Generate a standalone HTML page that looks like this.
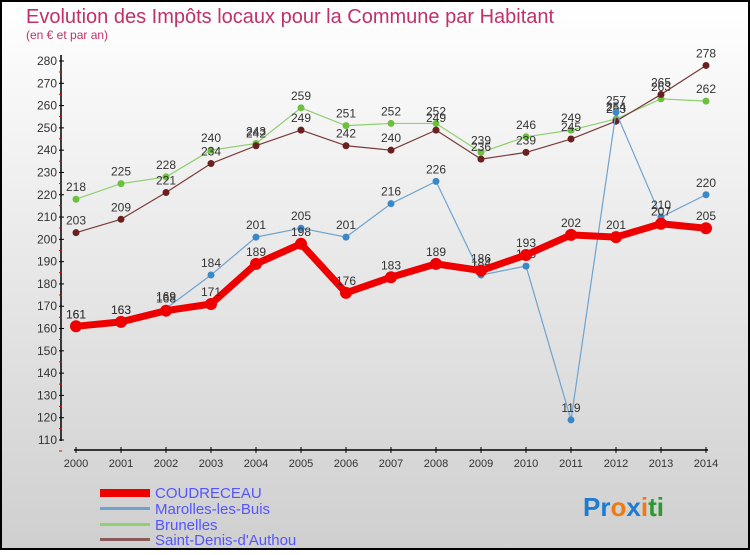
<!DOCTYPE html>
<html><head><meta charset="utf-8"><style>
body{margin:0;}
#c{width:750px;height:550px;position:relative;font-family:"Liberation Sans",sans-serif;}
</style></head><body>
<div id="c">
<svg id="s" width="750" height="550" xmlns="http://www.w3.org/2000/svg">
<defs><linearGradient id="bg" x1="0" y1="0" x2="0" y2="1"><stop offset="0" stop-color="#ffffff"/><stop offset="1" stop-color="#cfcfcf"/></linearGradient></defs>
<rect x="1" y="1" width="748" height="548" fill="url(#bg)" stroke="#000" stroke-width="2"/>
<text x="26" y="23" font-size="20" fill="#c0306a">Evolution des Impôts locaux pour la Commune par Habitant</text>
<text x="26" y="39" font-size="12" fill="#c0306a">(en € et par an)</text>
<g id="axes"></g><g id="series"></g>
<g>
<rect x="100" y="489" width="50" height="8" fill="#e00"/>
<text x="155" y="498" font-size="15" fill="#5555ff">COUDRECEAU</text>
<rect x="100" y="507" width="50" height="3" fill="#6fa3cf"/>
<text x="155" y="514" font-size="15" fill="#5555ff">Marolles-les-Buis</text>
<rect x="100" y="523" width="50" height="3" fill="#8fd070"/>
<text x="155" y="530" font-size="15" fill="#5555ff">Brunelles</text>
<rect x="100" y="538" width="50" height="3" fill="#8a5a5a"/>
<text x="155" y="545" font-size="15" fill="#5555ff">Saint-Denis-d'Authou</text>
</g>
<text x="583" y="516" font-size="26" font-weight="bold"><tspan fill="#1e7bd0">Pr</tspan><tspan fill="#f07a10">o</tspan><tspan fill="#1e7bd0">x</tspan><tspan fill="#f07a10">i</tspan><tspan fill="#2a9a30">ti</tspan></text>
</svg></div>
<script>
const years=[2000,2001,2002,2003,2004,2005,2006,2007,2008,2009,2010,2011,2012,2013,2014];
const yTicks=[110,120,130,140,150,160,170,180,190,200,210,220,230,240,250,260,270,280];
const coudreceau=[161,163,168,171,189,198,176,183,189,186,193,202,201,207,205];
const marolles=[161,163,169,184,201,205,201,216,226,184,188,119,257,210,220];
const brunelles=[218,225,228,240,243,259,251,252,252,239,246,249,254,263,262];
const saintDenis=[203,209,221,234,242,249,242,240,249,236,239,245,253,265,278];
const NS="http://www.w3.org/2000/svg";
const X=i=>76+i*(706-76)/14;
const Y=v=>440-(v-110)*(440-61)/170;
function mk(t,a,p){const e=document.createElementNS(NS,t);for(const k in a)e.setAttribute(k,a[k]);p.appendChild(e);return e;}
const ax=document.getElementById('axes'),sg=document.getElementById('series');
mk('line',{x1:61,y1:55,x2:61,y2:441,stroke:'#000','stroke-width':1.5},ax);
mk('line',{x1:74,y1:450,x2:708,y2:450,stroke:'#000','stroke-width':1.5},ax);
yTicks.forEach(v=>{const y=Y(v);
 mk('line',{x1:59,y1:y,x2:64,y2:y,stroke:'#000'},ax);
 mk('line',{x1:59,y1:y+11,x2:62,y2:y+11,stroke:'#e00'},ax);
 const t=mk('text',{x:57,y:y+4,'font-size':12,fill:'#333','text-anchor':'end'},ax);t.textContent=v;
 });
years.forEach((yr,i)=>{const x=X(i);
 mk('line',{x1:x,y1:447,x2:x,y2:453,stroke:'#000'},ax);
 const t=mk('text',{x:x,y:467,'font-size':11,fill:'#333','text-anchor':'middle'},ax);t.textContent=yr;
 });
function series(d,col,w,r,name,dot){
 const g=mk('g',{},sg);
 mk('polyline',{points:d.map((v,i)=>X(i)+','+Y(v)).join(' '),fill:'none',stroke:col,'stroke-width':w,'stroke-linejoin':'round'},g);
 d.forEach((v,i)=>{const c=mk('circle',{cx:X(i),cy:Y(v),r:r,fill:dot},g);
  const t=mk('text',{x:X(i),y:Y(v)-8,'font-size':12,fill:'#333','text-anchor':'middle'},g);t.textContent=v;
  });}
series(brunelles,'#8fd070',1.2,3.5,'brunelles','#6cc040');
series(saintDenis,'#7a3a3a',1.2,3.5,'saint-denis','#6a2020');
series(marolles,'#6fa3cf',1.2,3.5,'marolles','#3a88c8');
series(coudreceau,'#ee0000',7,6,'coudreceau','#ee0000');
</script>
</body></html>
